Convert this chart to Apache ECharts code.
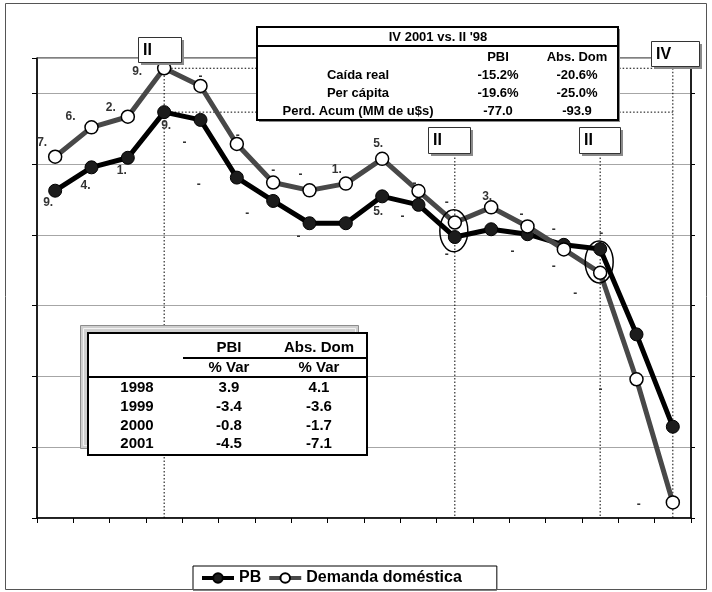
<!DOCTYPE html>
<html>
<head>
<meta charset="utf-8">
<script src="https://cdn.jsdelivr.net/npm/echarts@6/dist/echarts.min.js"></script>
<style>
  html, body { margin: 0; padding: 0; background: #fff; }
  #chart { width: 712px; height: 592px; }
</style>
</head>
<body>
<div id="chart"></div>
<script>
// Quarterly index, III-1997 .. IV-2001
const categories = ['III 97','IV 97','I 98','II 98','III 98','IV 98','I 99','II 99','III 99','IV 99',
                    'I 00','II 00','III 00','IV 00','I 01','II 01','III 01','IV 01'];

// PBI (black line)
const pbValues = [93.25, 93.91, 94.18, 95.47, 95.25, 93.62, 92.96, 92.33, 92.33, 93.09,
                  92.85, 91.94, 92.16, 92.02, 91.72, 91.60, 89.19, 86.58];
// Demanda doméstica (grey line, open markers)
const ddValues = [94.21, 95.04, 95.34, 96.71, 96.21, 94.57, 93.48, 93.26, 93.45, 94.15,
                  93.24, 92.35, 92.78, 92.24, 91.59, 90.93, 87.92, 84.44];

// Point tags (clipped growth-rate labels)
const pbTags = ['9.','4.','1.','9.','-','-','-','-','','5.','-','-','','-','-','-','',''];
const ddTags = ['7.','6.','2.','9.','-','-','-','-','1.','5.','-','-','3.','-','-','-','-','-'];

// Tag placement relative to each marker
const pbTagShift = [[-7,12],[-6,18],[-6,13],[2,14],[-16,23],[-38,7],[-26,13],[-11,13],[0,0],[-4,15],
                    [-16,12],[-8,18],[0,0],[-15,17],[-10,22],[1,-15],[0,0],[0,0]];
const ddTagShift = [[-13,-14],[-21,-11],[-17,-9],[-27,3],[0,-9],[1,-8],[0,-12],[-9,-16],[-9,-14],[-4,-15],
                    [-4,-7],[-8,-20],[-4,-11],[-6,-12],[-10,-20],[-25,21],[-36,10],[-34,2]];

// Summary tables
const summaryTitle = "IV 2001 vs. II '98";
const summaryCols = ['PBI', 'Abs. Dom'];
const summaryRows = ['Caída real', 'Per cápita', 'Perd. Acum (MM de u$s)'];
const summaryPBI = ['-15.2%', '-19.6%', '-77.0'];
const summaryDom = ['-20.6%', '-25.0%', '-93.9'];

const yearCols = ['PBI', 'Abs. Dom'];
const yearSub = '% Var';
const years = ['1998', '1999', '2000', '2001'];
const yearPBI = ['3.9', '-3.4', '-0.8', '-4.5'];
const yearDom = ['4.1', '-3.6', '-1.7', '-7.1'];

// Quarter markers
const markerIdx = [3, 11, 15, 17];
const markerText = ['II', 'II', 'II', 'IV'];

const yMin = 84, yMax = 97, yStep = 2;

const FONT = 'Arial, "Liberation Sans", sans-serif';
const chart = echarts.init(document.getElementById('chart'), null, { renderer: 'canvas' });

function tagData(vals, tags, shifts) {
  return vals.map((v, i) => ({
    value: v,
    label: { show: tags[i] !== '', formatter: tags[i], offset: shifts[i] }
  }));
}

function txt(x, y, text, opts) {
  opts = opts || {};
  const align = opts.align || 'center';
  return {
    type: 'text', z: 12, silent: true,
    style: {
      x: x, y: y, text: text,
      font: (opts.weight || 'bold') + ' ' + (opts.size || 13) + 'px ' + FONT,
      fill: opts.color || '#000',
      textAlign: align, align: align,
      textVerticalAlign: 'middle', verticalAlign: 'middle'
    }
  };
}
function rect(x, y, w, h, fill, stroke, lw, z) {
  return { type: 'rect', z: z || 10, silent: true,
    shape: { x: x, y: y, width: w, height: h },
    style: { fill: fill, stroke: stroke, lineWidth: lw || 0 } };
}
function seg(x1, y1, x2, y2, lw, color, dash, z) {
  return { type: 'line', z: z || 11, silent: true,
    shape: { x1: x1, y1: y1, x2: x2, y2: y2 },
    style: { stroke: color || '#000', lineWidth: lw || 1, lineDash: dash || null } };
}

// Static annotations: frame, tables, quarter boxes
const staticEls = [];
staticEls.push(rect(5.5, 3.5, 701, 586, 'none', '#555', 1, 0));

// Top summary table
staticEls.push(rect(259, 29, 361, 93, '#8a8a8a', null, 0, 10));
staticEls.push(rect(257, 27, 361, 93, '#fff', '#000', 2, 10));
staticEls.push(seg(257, 46, 618, 46, 2, '#000', null, 11));
staticEls.push(txt(438, 37, summaryTitle));
staticEls.push(txt(498, 57, summaryCols[0]));
staticEls.push(txt(577, 57, summaryCols[1]));
summaryRows.forEach((r, i) => {
  const y = 75 + i * 18;
  staticEls.push(txt(358, y, r));
  staticEls.push(txt(498, y, summaryPBI[i]));
  staticEls.push(txt(577, y, summaryDom[i]));
});

// Yearly table
const TS = { size: 15 };
staticEls.push(rect(80.5, 325.5, 278, 123, '#cfcfcf', '#8c8c8c', 1, 10));
staticEls.push(rect(83.5, 328.5, 272, 117, 'none', '#f2f2f2', 1, 10));
staticEls.push(rect(88, 333, 279, 122, '#fff', '#000', 2, 10));
staticEls.push(txt(229, 348, yearCols[0], TS));
staticEls.push(txt(319, 348, yearCols[1], TS));
staticEls.push(seg(183, 358, 367, 358, 2, '#000', null, 11));
staticEls.push(txt(229, 368, yearSub, TS));
staticEls.push(txt(319, 368, yearSub, TS));
staticEls.push(seg(88, 377, 367, 377, 2, '#000', null, 11));
years.forEach((yr, i) => {
  const y = 388 + i * 18.7;
  staticEls.push(txt(137, y, yr, TS));
  staticEls.push(txt(229, y, yearPBI[i], TS));
  staticEls.push(txt(319, y, yearDom[i], TS));
});

// Quarter boxes
const boxes = [[138, 37, 43, 25], [428, 127, 42, 26], [579, 127, 41, 26], [651, 41, 48, 25]];
boxes.forEach((b, i) => {
  staticEls.push(rect(b[0] + 3, b[1] + 3, b[2], b[3], '#8a8a8a', null, 0, 10));
  staticEls.push(rect(b[0] + 0.5, b[1] + 0.5, b[2], b[3], '#fff', '#333', 1, 10));
  staticEls.push(txt(b[0] + 5, b[1] + b[3] / 2 + 1, markerText[i], { align: 'left', size: 16 }));
});

const option = {
  animation: false,
  backgroundColor: '#fff',
  grid: { left: 37, right: 21, top: 58, bottom: 74, show: true, borderColor: '#000', borderWidth: 1, backgroundColor: 'transparent' },
  legend: {
    left: 193, top: 566,
    padding: [4, 35, 4, 7],
    itemGap: 6, itemWidth: 32, itemHeight: 12,
    borderColor: '#000', borderWidth: 1, borderRadius: 0,
    backgroundColor: '#fff',
    lineStyle: { width: 4 },
    textStyle: { color: '#000', fontWeight: 'bold', fontSize: 16, fontFamily: FONT },
    data: ['PB', 'Demanda doméstica']
  },
  xAxis: {
    type: 'category', data: categories, boundaryGap: true,
    axisLine: { show: true, lineStyle: { color: '#000', width: 1.5 } },
    axisTick: { show: true, inside: false, length: 5, interval: 0, lineStyle: { color: '#000' } },
    axisLabel: { show: false, interval: 0 },
    splitLine: { show: false }
  },
  yAxis: [{
    type: 'value', min: yMin, max: yMax, interval: yStep,
    axisLine: { show: true, lineStyle: { color: '#000', width: 1.5 } },
    axisTick: { show: true, inside: false, length: 5, lineStyle: { color: '#000' } },
    axisLabel: { show: false },
    splitLine: { show: true, lineStyle: { color: '#a6a6a6', width: 1 } }
  }, {
    type: 'value', min: yMin, max: yMax, interval: yStep, position: 'right',
    axisLine: { show: true, lineStyle: { color: '#000', width: 1.5 } },
    axisTick: { show: true, inside: false, length: 4, lineStyle: { color: '#000' } },
    axisLabel: { show: false },
    splitLine: { show: false }
  }],
  series: [{
    name: 'PB', type: 'line', z: 3,
    data: tagData(pbValues, pbTags, pbTagShift),
    symbol: 'circle', symbolSize: 13,
    lineStyle: { color: '#000', width: 5 },
    itemStyle: { color: '#1c1c1c', borderColor: '#000', borderWidth: 1 },
    label: { position: 'inside', color: '#333', fontWeight: 'bold', fontSize: 12, fontFamily: FONT },
    emphasis: { disabled: true }
  }, {
    name: 'Demanda doméstica', type: 'line', z: 4,
    data: tagData(ddValues, ddTags, ddTagShift),
    symbol: 'circle', symbolSize: 13,
    lineStyle: { color: '#484848', width: 5 },
    itemStyle: { color: '#fff', borderColor: '#000', borderWidth: 1.5 },
    label: { position: 'inside', color: '#333', fontWeight: 'bold', fontSize: 12, fontFamily: FONT },
    emphasis: { disabled: true }
  }],
  graphic: staticEls
};

chart.setOption(option);

// Data-anchored guides: dotted verticals, peak levels, and ellipses around turning points
const px = (i, v) => chart.convertToPixel({ seriesIndex: 0 }, [i, v]);
const bottomY = px(0, yMin)[1];
const topY = px(0, yMax)[1];
const dyn = [];
const dash = [1.5, 2];
const peakIdx = markerIdx[0];
const endX = px(markerIdx[3], yMin)[0];

// horizontal peak levels
[ddValues[peakIdx], pbValues[peakIdx]].forEach(v => {
  const p = px(peakIdx, v);
  dyn.push(seg(p[0], p[1], endX, p[1], 1, '#000', dash, 1));
});
// verticals
dyn.push(seg(px(markerIdx[0], yMin)[0], topY, px(markerIdx[0], yMin)[0], bottomY, 1, '#000', dash, 1));
dyn.push(seg(px(markerIdx[1], yMin)[0], 140, px(markerIdx[1], yMin)[0], bottomY, 1, '#000', dash, 1));
dyn.push(seg(px(markerIdx[2], yMin)[0], 140, px(markerIdx[2], yMin)[0], bottomY, 1, '#000', dash, 1));
dyn.push(seg(endX, px(peakIdx, ddValues[peakIdx])[1], endX, bottomY, 1, '#000', dash, 1));

// ellipses around the two 'II' turning points
[markerIdx[1], markerIdx[2]].forEach(i => {
  const a = px(i, pbValues[i]), b = px(i, ddValues[i]);
  dyn.push({ type: 'ellipse', z: 12, silent: true,
    shape: { cx: a[0] - 1, cy: (a[1] + b[1]) / 2 + 1, rx: 14, ry: 21 },
    style: { fill: 'none', stroke: '#000', lineWidth: 1.5 } });
});

chart.setOption({ graphic: staticEls.concat(dyn) });
</script>
</body>
</html>
